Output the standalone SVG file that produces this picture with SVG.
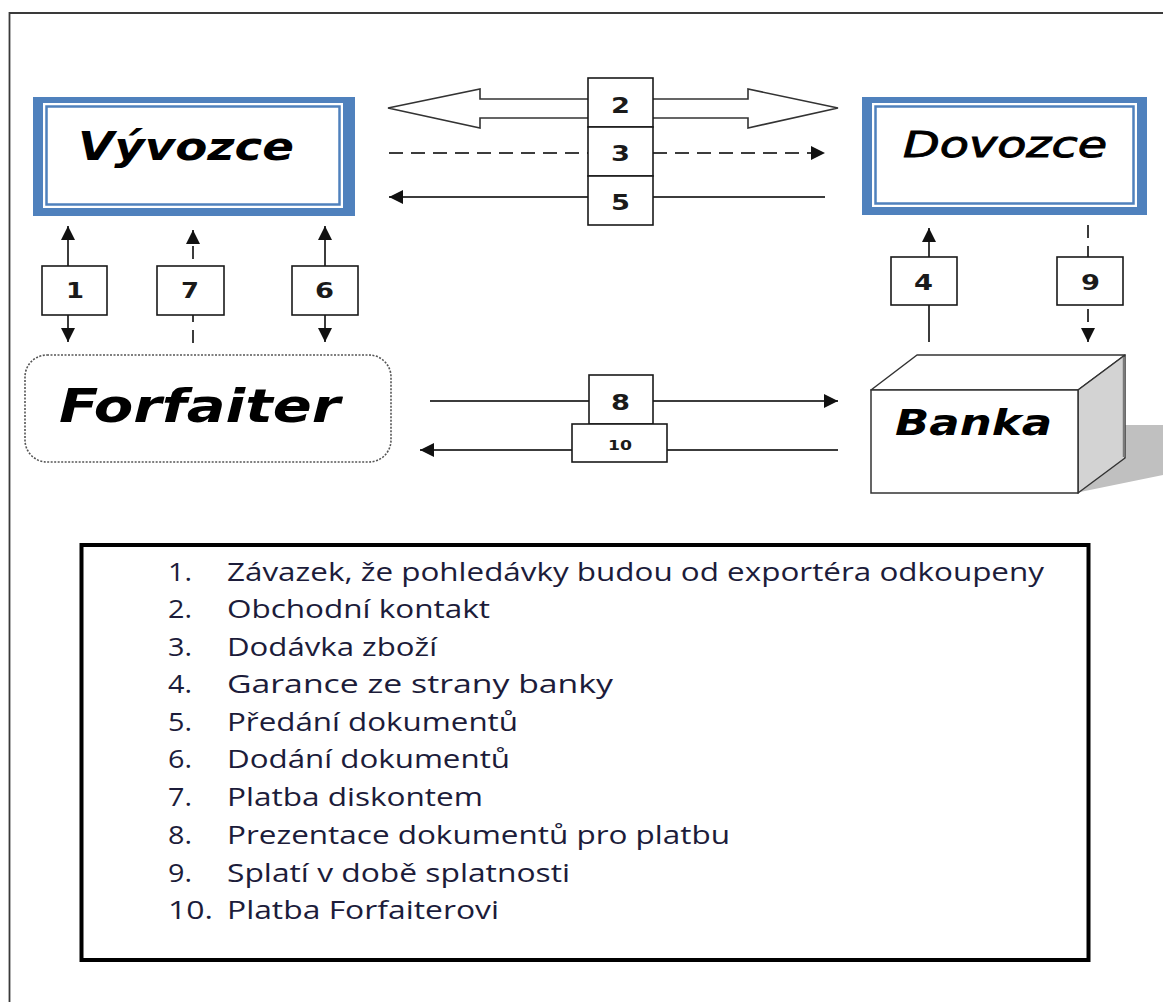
<svg xmlns="http://www.w3.org/2000/svg" width="1163" height="1002" viewBox="0 0 1163 1002">
<style>
.frame{fill:none;stroke:#3a3a3a;stroke-width:1.8}
.ln{fill:none;stroke:#3c3c3c;stroke-width:2}
.dash{stroke-dasharray:14 8}
.vdash{stroke-dasharray:13 8}
.box{fill:#fff;stroke:#1a1a1a;stroke-width:1.6}
.num{font-family:"DejaVu Sans",Verdana,sans-serif;font-weight:bold;fill:#1a1a1a}
.title{font-family:"DejaVu Sans",Verdana,sans-serif;font-style:oblique;fill:#000}
.leg{font-family:"Open Sans","Liberation Sans",sans-serif;font-size:25.5px;fill:#1c1c3a}
</style>
<defs>
<marker id="ah" viewBox="0 0 10 10" refX="10" refY="5" markerWidth="14" markerHeight="14" markerUnits="userSpaceOnUse" orient="auto-start-reverse">
<path d="M0,0 L10,5 L0,10 z" fill="#111" stroke="none"/>
</marker>
</defs>
<rect width="1163" height="1002" fill="#fff"/>
<path class="frame" d="M9.5,1002 V13 H1163"/>

<g id="connectors">
<path d="M388,108 L480,89 L480,99 L748,99 L748,89 L838,108 L748,128 L748,118 L480,118 L480,128 Z" fill="#fff" stroke="#333" stroke-width="1.6"/>
<path class="ln dash" d="M389,153 H825" marker-end="url(#ah)"/>
<path class="ln" d="M825,197 H389" marker-end="url(#ah)"/>
<path class="ln" d="M68,342 V226" marker-start="url(#ah)" marker-end="url(#ah)"/>
<path class="ln vdash" d="M193,343 V230" marker-end="url(#ah)"/>
<path class="ln" d="M325,342 V226" marker-start="url(#ah)" marker-end="url(#ah)"/>
<path class="ln" d="M929,342 V228" marker-end="url(#ah)"/>
<path class="ln vdash" d="M1088,225 V342" marker-end="url(#ah)"/>
<path class="ln" d="M430,401 H838" marker-end="url(#ah)"/>
<path class="ln" d="M838,450 H420" marker-end="url(#ah)"/>
</g>

<g id="label-2"><rect class="box" x="588" y="78" width="65" height="49"/><text class="num" x="611" y="113" font-size="21" textLength="19" lengthAdjust="spacingAndGlyphs">2</text></g>
<g id="label-3"><rect class="box" x="588" y="127" width="65" height="49"/><text class="num" x="611" y="161" font-size="21" textLength="19" lengthAdjust="spacingAndGlyphs">3</text></g>
<g id="label-5"><rect class="box" x="588" y="176" width="65" height="49"/><text class="num" x="611" y="210" font-size="21" textLength="19" lengthAdjust="spacingAndGlyphs">5</text></g>
<g id="label-1"><rect class="box" x="42" y="266" width="65" height="49"/><text class="num" x="66" y="298" font-size="21" textLength="18" lengthAdjust="spacingAndGlyphs">1</text></g>
<g id="label-7"><rect class="box" x="157" y="266" width="67" height="49"/><text class="num" x="181" y="298" font-size="21" textLength="18" lengthAdjust="spacingAndGlyphs">7</text></g>
<g id="label-6"><rect class="box" x="292" y="266" width="66" height="49"/><text class="num" x="315" y="298" font-size="21" textLength="19" lengthAdjust="spacingAndGlyphs">6</text></g>
<g id="label-4"><rect class="box" x="891" y="257" width="66" height="48"/><text class="num" x="914" y="290" font-size="21" textLength="19" lengthAdjust="spacingAndGlyphs">4</text></g>
<g id="label-9"><rect class="box" x="1057" y="257" width="66" height="48"/><text class="num" x="1081" y="290" font-size="21" textLength="19" lengthAdjust="spacingAndGlyphs">9</text></g>
<g id="label-8"><rect class="box" x="589" y="375" width="64" height="49"/><text class="num" x="611" y="410" font-size="22" textLength="19" lengthAdjust="spacingAndGlyphs">8</text></g>
<g id="label-10"><rect class="box" x="572" y="424" width="95" height="38"/><text class="num" x="608" y="450" font-size="14" textLength="24" lengthAdjust="spacingAndGlyphs">10</text></g>

<g id="vyvozce">
<rect x="33" y="97" width="322" height="119" fill="#4f81bd"/>
<rect x="43" y="103" width="300" height="105" fill="#fff"/>
<rect x="46.5" y="106.5" width="293" height="98" fill="none" stroke="#4f81bd" stroke-width="2.5"/>
<text class="title" x="78" y="160" font-size="39" font-weight="bold" textLength="216" lengthAdjust="spacingAndGlyphs">Vývozce</text>
</g>

<g id="dovozce">
<rect x="862" y="97" width="285" height="118" fill="#4f81bd"/>
<rect x="872" y="103" width="265" height="104" fill="#fff"/>
<rect x="875.5" y="106.5" width="258" height="97" fill="none" stroke="#4f81bd" stroke-width="2.5"/>
<text class="title" x="903" y="157" font-size="35" stroke="#000" stroke-width="0.9" textLength="204" lengthAdjust="spacingAndGlyphs">Dovozce</text>
</g>

<g id="forfaiter">
<rect x="25" y="355" width="366" height="107" rx="22" fill="#fff" stroke="#555" stroke-width="1.6" stroke-dasharray="2 1.5"/>
<text class="title" x="59" y="422" font-size="46" font-weight="bold" textLength="281" lengthAdjust="spacingAndGlyphs">Forfaiter</text>
</g>

<g id="banka">
<polygon points="1125,425 1163,425 1163,475 1080,492 1125,458" fill="#c0c0c0"/>
<polygon points="871,390 917,355 1125,355 1078,390" fill="#fff" stroke="#333" stroke-width="1.5" stroke-linejoin="round"/>
<polygon points="1078,390 1125,355 1125,458 1078,493" fill="#d3d3d3" stroke="#333" stroke-width="1.5" stroke-linejoin="round"/>
<line x1="1124" y1="357" x2="1124" y2="457" stroke="#7a7a7a" stroke-width="2.5"/>
<rect x="871" y="390" width="207" height="103" fill="#fff" stroke="#333" stroke-width="1.5"/>
<text class="title" x="895" y="435" font-size="35" font-weight="bold" textLength="157" lengthAdjust="spacingAndGlyphs">Banka</text>
</g>

<g id="legend">
<rect x="81.5" y="545" width="1007" height="415" fill="#fff" stroke="#000" stroke-width="4"/>
<text class="leg" x="168" y="580.5" textLength="24" lengthAdjust="spacingAndGlyphs">1.</text>
<text class="leg" x="227" y="580.5" textLength="817" lengthAdjust="spacingAndGlyphs">Závazek, že pohledávky budou od exportéra odkoupeny</text>
<text class="leg" x="168" y="618" textLength="24" lengthAdjust="spacingAndGlyphs">2.</text>
<text class="leg" x="227" y="618" textLength="263" lengthAdjust="spacingAndGlyphs">Obchodní kontakt</text>
<text class="leg" x="168" y="655.5" textLength="24" lengthAdjust="spacingAndGlyphs">3.</text>
<text class="leg" x="227" y="655.5" textLength="210" lengthAdjust="spacingAndGlyphs">Dodávka zboží</text>
<text class="leg" x="168" y="693" textLength="24" lengthAdjust="spacingAndGlyphs">4.</text>
<text class="leg" x="227" y="693" textLength="386" lengthAdjust="spacingAndGlyphs">Garance ze strany banky</text>
<text class="leg" x="168" y="730.5" textLength="24" lengthAdjust="spacingAndGlyphs">5.</text>
<text class="leg" x="227" y="730.5" textLength="291" lengthAdjust="spacingAndGlyphs">Předání dokumentů</text>
<text class="leg" x="168" y="768" textLength="24" lengthAdjust="spacingAndGlyphs">6.</text>
<text class="leg" x="227" y="768" textLength="283" lengthAdjust="spacingAndGlyphs">Dodání dokumentů</text>
<text class="leg" x="168" y="806" textLength="24" lengthAdjust="spacingAndGlyphs">7.</text>
<text class="leg" x="227" y="806" textLength="256" lengthAdjust="spacingAndGlyphs">Platba diskontem</text>
<text class="leg" x="168" y="844" textLength="24" lengthAdjust="spacingAndGlyphs">8.</text>
<text class="leg" x="227" y="844" textLength="503" lengthAdjust="spacingAndGlyphs">Prezentace dokumentů pro platbu</text>
<text class="leg" x="168" y="881.5" textLength="24" lengthAdjust="spacingAndGlyphs">9.</text>
<text class="leg" x="227" y="881.5" textLength="343" lengthAdjust="spacingAndGlyphs">Splatí v době splatnosti</text>
<text class="leg" x="168" y="918.5" textLength="45" lengthAdjust="spacingAndGlyphs">10.</text>
<text class="leg" x="227" y="918.5" textLength="272" lengthAdjust="spacingAndGlyphs">Platba Forfaiterovi</text>
</g>
</svg>
